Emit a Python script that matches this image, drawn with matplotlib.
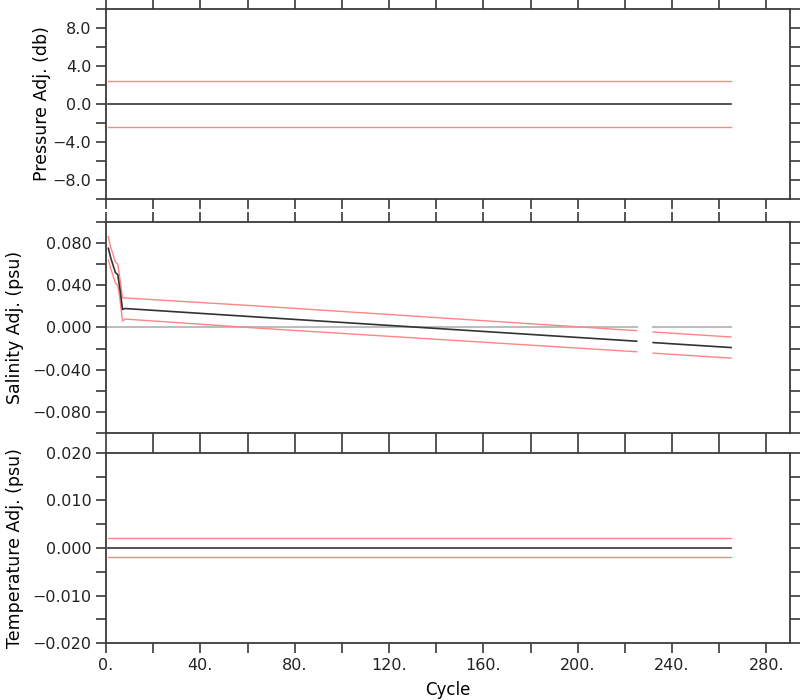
import numpy as np
import matplotlib
matplotlib.use("Agg")
import matplotlib.pyplot as plt
from matplotlib.ticker import MultipleLocator, FuncFormatter

# cycles covered by the float record
cycle_span = [1, 265]

# pressure adjustment and its error (db)
pres_adj = [0.0, 0.0]
pres_err = [2.4, 2.4]

# salinity adjustment (psu), with a gap of missing cycles
sal_cycle = [1, 2, 4, 5, 6, 7, 8, 65, 225, np.nan, 232, 265]
sal_adj = [0.075, 0.066, 0.052, 0.050, 0.035, 0.017, 0.018, 0.0098, -0.013, np.nan, -0.0143, -0.019]
sal_err = [0.011, 0.010, 0.010, 0.010, 0.010, 0.011, 0.010, 0.0105, 0.010, np.nan, 0.010, 0.010]

# temperature adjustment and its error
temp_adj = [0.0, 0.0]
temp_err = [0.002, 0.002]

x_max = 290

plt.rcParams['font.family'] = ['DejaVu Sans']
plt.rcParams['font.size'] = 11.5
plt.rcParams['axes.edgecolor'] = '#3a3a3a'
plt.rcParams['axes.linewidth'] = 1.3


def fmt(digits):
    # labels use a real minus sign
    return FuncFormatter(lambda v, p: ('%.*f' % (digits, v)).replace('-', '\u2212'))


fig = plt.figure(figsize=(8, 7), dpi=100)
left, right = 0.1325, 0.9875
ax1 = fig.add_axes([left, 0.7157, right - left, 0.987 - 0.7157])
ax2 = fig.add_axes([left, 0.3814, right - left, 0.6829 - 0.3814])
ax3 = fig.add_axes([left, 0.0814, right - left, 0.3529 - 0.0814])

red = '#ff8585'
dark = '#333333'

ax1.plot(cycle_span, np.array(pres_adj) + np.array(pres_err), color=red, lw=1)
ax1.plot(cycle_span, np.array(pres_adj) - np.array(pres_err), color=red, lw=1)
ax1.plot(cycle_span, pres_adj, color=dark, lw=1.2)
ax1.set_ylim(-10, 10)
ax1.yaxis.set_major_locator(MultipleLocator(4))
ax1.yaxis.set_minor_locator(MultipleLocator(2))
ax1.yaxis.set_major_formatter(fmt(1))
ax1.set_ylabel('Pressure Adj. (db)', labelpad=1, fontsize=12.5)

sc = np.array(sal_cycle)
sa = np.array(sal_adj)
se = np.array(sal_err)
ax2.plot(sc, sa * 0, color='#bdbdbd', lw=1.5)
ax2.plot(sc, sa + se, color=red, lw=1)
ax2.plot(sc, sa - se, color=red, lw=1)
ax2.plot(sc, sa, color=dark, lw=1.2)
ax2.set_ylim(-0.1, 0.1)
ax2.yaxis.set_major_locator(MultipleLocator(0.04))
ax2.yaxis.set_minor_locator(MultipleLocator(0.02))
ax2.yaxis.set_major_formatter(fmt(3))
ax2.set_ylabel('Salinity Adj. (psu)', labelpad=6, fontsize=12.5)

ax3.plot(cycle_span, np.array(temp_adj) + np.array(temp_err), color=red, lw=1)
ax3.plot(cycle_span, np.array(temp_adj) - np.array(temp_err), color=red, lw=1)
ax3.plot(cycle_span, temp_adj, color=dark, lw=1.2)
ax3.set_ylim(-0.02, 0.02)
ax3.yaxis.set_major_locator(MultipleLocator(0.01))
ax3.yaxis.set_minor_locator(MultipleLocator(0.005))
ax3.yaxis.set_major_formatter(fmt(3))
ax3.set_ylabel('Temperature Adj. (psu)', labelpad=6, fontsize=12.5)
ax3.set_xlabel('Cycle', labelpad=6, fontsize=12)

for ax in (ax1, ax2, ax3):
    ax.set_xlim(0, x_max)
    ax.xaxis.set_major_locator(MultipleLocator(40))
    ax.xaxis.set_minor_locator(MultipleLocator(20))
    ax.tick_params(which='both', direction='out', length=7, width=1.2,
                   color='#3a3a3a', top=True, right=True, labelsize=11.5,
                   labelcolor='#222222')
    ax.tick_params(axis='y', which='both', labelright=False)

ax1.tick_params(labelbottom=False)
ax2.tick_params(labelbottom=False)
ax3.xaxis.set_major_formatter(FuncFormatter(lambda v, p: '%d.' % v))

fig.savefig('out.png', dpi=100)
